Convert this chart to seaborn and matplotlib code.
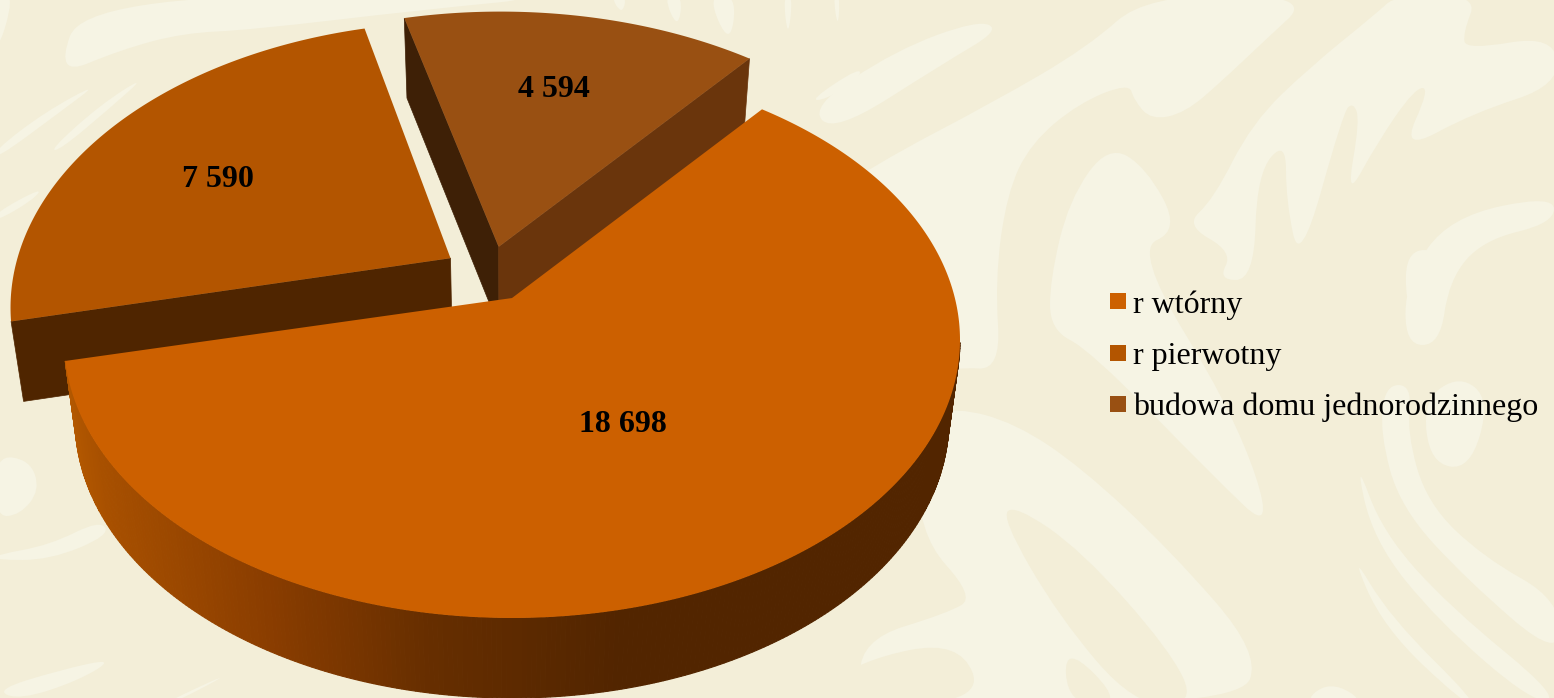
import numpy as np
import matplotlib
matplotlib.use("Agg")
import matplotlib.pyplot as plt
import seaborn as sns
from matplotlib.lines import Line2D
from matplotlib.patches import PathPatch, Polygon
from matplotlib.path import Path

# -------------------------
# Data
# -------------------------
categories = ["r wtórny", "r pierwotny", "budowa domu jednorodzinnego"]
values = [18698, 7590, 4594]
colors = ["#CC6000", "#B35500", "#995012"]

# -------------------------
# Pie geometry (image pixels)
# -------------------------
W, H = 1554, 698
CX, CY, RX, RY = 512, 340, 448, 278
TILT = 0.151          # moves the circle centre towards the far side
DEPTH = 80
START = 50.9          # degrees, first slice runs clockwise from here
EXPLODE = [(0, 0), (-0.142, 0.15), (-0.031, 0.194)]
STRETCH = [(1, 1), (1, 1.05), (1.03, 1.06)]
LABEL_R = [0.45, 0.65, 0.7]
LABEL_SHIFT = [(-1, 16), (-6, 5), (-4, 2)]

BG_DARK = "#F3EED8"
BG_LIGHT = "#F6F4E4"


def project(u, v):
    den = 1 + TILT * v
    x = u * np.sqrt(1 - TILT ** 2) / den
    y = (v + TILT) / den
    return CX + RX * x, CY - RY * y


def drop(x, y):
    # the bottom face, pulled slightly inwards
    return CX + (x - CX) * 0.975, y + DEPTH


def slice_outline(i, a0, a1, n=160):
    t = np.radians(np.linspace(a0, a1, n))
    sx, sy = STRETCH[i]
    ex, ey = EXPLODE[i]
    return project(ex + sx * np.cos(t), ey + sy * np.sin(t))


def wall(ax, p, q, color, z):
    bx, by = drop(np.array([p[0], q[0]]), np.array([p[1], q[1]]))
    ax.add_patch(Polygon([p, q, (bx[1], by[1]), (bx[0], by[0])], fc=color, ec=color, lw=0.5, zorder=z))


def blob(ax, pts, color=BG_LIGHT):
    # closed smooth shape through the midpoints of pts
    pts = np.array(pts, dtype=float)
    mids = (pts + np.roll(pts, -1, axis=0)) / 2
    verts = [mids[-1]]
    codes = [Path.MOVETO]
    for k in range(len(pts)):
        verts += [pts[k], mids[k]]
        codes += [Path.CURVE3, Path.CURVE3]
    ax.add_patch(PathPatch(Path(verts, codes), fc=color, ec="none", zorder=1))


# wallpaper swirls
light_shapes = [
    [(760, 240), (877, 163), (992, 103), (1088, 47), (1146, -5), (1314, -5), (1262, 43), (1223, 80), (1185, 113),
     (1151, 120), (1134, 100), (1129, 83), (1079, 103), (1031, 143), (1007, 193), (995, 280), (1001, 370),
     (957, 367), (900, 380), (800, 300)],
    [(1108, 145), (1069, 200), (1050, 280), (1050, 330), (1090, 350), (1214, 477), (1275, 535), (1236, 417),
     (1134, 250), (1180, 230), (1146, 167)],
    [(1185, 225), (1213, 200), (1252, 123), (1310, 67), (1377, 13), (1396, -5), (1478, -5), (1463, 33), (1466, 50),
     (1554, 35), (1560, 85), (1473, 113), (1401, 152), (1430, 88), (1415, 88), (1377, 143), (1346, 200),
     (1360, 120), (1353, 102), (1343, 113), (1300, 267), (1286, 200), (1286, 140), (1257, 173), (1254, 280),
     (1218, 280), (1233, 252)],
    [(1406, 280), (1449, 217), (1554, 195), (1554, 223), (1483, 240), (1449, 280), (1440, 345), (1405, 345)],
    [(1404, 250), (1444, 250), (1425, 320), (1408, 320)],
    # lower right rings
    [(1380, 433), (1400, 507), (1467, 580), (1560, 660), (1560, 600), (1483, 557), (1427, 503), (1407, 433),
     (1412, 385), (1385, 385)],
    [(1423, 400), (1430, 463), (1470, 470), (1490, 400), (1460, 375)],
    [(1355, 457), (1383, 533), (1450, 607), (1560, 697), (1533, 703), (1437, 620), (1373, 540)],
    [(1350, 550), (1390, 617), (1477, 703), (1463, 703), (1383, 627)],
    [(955, 407), (1015, 423), (1081, 467), (1170, 550), (1260, 653), (1240, 705), (860, 705), (860, 640), (948, 613),
     (975, 597), (917, 533), (920, 420)],
    [(1300, 705), (1330, 680), (1370, 705)],
    # upper middle streaks
    [(810, 107), (896, 50), (978, 20), (1000, 30), (944, 63), (834, 133)],
    [(833, -5), (840, -5), (838, 30)],
    [(610, -5), (627, -5), (622, 15)],
    [(663, -5), (683, -5), (678, 30)],
    [(707, -5), (737, -5), (730, 47)],
    [(783, -5), (793, -5), (788, 40)],
    [(810, 100), (860, 67), (860, 78), (825, 100)],
    # top left
    [(85, -5), (575, -5), (420, 10), (250, 30), (183, 33), (120, 50), (55, 77)],
    [(-5, 150), (45, 112), (100, 82), (60, 112), (-5, 160)],
    [(50, 150), (100, 105), (147, 75), (110, 108), (60, 150)],
    [(-5, 213), (43, 187), (33, 200), (-5, 222)],
    [(-5, -5), (15, -5), (-5, 60)],
    # left
    [(-5, 455), (30, 460), (40, 490), (20, 515), (-5, 517)],
    [(-5, 555), (50, 545), (100, 520), (110, 535), (50, 560), (-5, 560)],
    [(-5, 690), (60, 670), (115, 658), (80, 680), (20, 700)],
    [(160, 705), (240, 668), (170, 705)],
]
dark_shapes = [
    [(1015, 505), (1081, 550), (1170, 650), (1196, 705), (1134, 705), (1059, 617), (1001, 517)],
    [(1064, 643), (1125, 705), (1068, 705)],
    [(860, 660), (960, 640), (985, 705), (800, 705)],
]

# -------------------------
# Plotting
# -------------------------
sns.set_theme(style="white")
plt.rcParams["font.family"] = ["Liberation Serif", "DejaVu Serif"]
palette = sns.color_palette(colors)

fig = plt.figure(figsize=(W / 100, H / 100), dpi=100, facecolor=BG_DARK)
ax = fig.add_axes([0, 0, 1, 1])
ax.set_xlim(0, W)
ax.set_ylim(H, 0)
ax.axis("off")

for shape in light_shapes:
    blob(ax, shape)
for shape in dark_shapes:
    blob(ax, shape, BG_DARK)

# slice angles come straight from the values
sweep = np.array(values) / sum(values) * 360
ends = START - np.cumsum(sweep)
starts = ends + sweep

# exploded slices first, the big one ends up on top
# budowa domu
xs, ys = slice_outline(2, starts[2], ends[2])
apex = project(*EXPLODE[2])
wall(ax, apex, (xs[0], ys[0]), "#3E2006", 3)
wall(ax, apex, (xs[-1], ys[-1]), "#6A350C", 3)
ax.fill(np.r_[apex[0], xs], np.r_[apex[1], ys], color=palette[2], lw=0, zorder=4)

# r pierwotny
xs, ys = slice_outline(1, starts[1], ends[1])
apex = project(*EXPLODE[1])
wall(ax, apex, (xs[0], ys[0]), "#4F2500", 5)
ax.fill(np.r_[apex[0], xs], np.r_[apex[1], ys], color=palette[1], lw=0, zorder=6)

# r wtórny, outer wall shaded from left to right, only the part facing us
xs, ys = slice_outline(0, starts[0], ends[0], n=400)
bx, by = drop(xs, ys)
angles = np.linspace(starts[0], ends[0], 400)
for k in range(len(xs) - 1):
    if angles[k] > -9:
        continue
    shade = [np.interp(xs[k], [65, 100, 267, 433, 620], [c0, c1, c2, c3, c4])
             for c0, c1, c2, c3, c4 in zip((0xB3, 0x58, 0), (0xA8, 0x50, 0), (0x8A, 0x3D, 0), (0x66, 0x2E, 0), (0x52, 0x25, 0))]
    col = tuple(c / 255 for c in shade)
    ax.add_patch(Polygon([(xs[k], ys[k]), (xs[k + 1], ys[k + 1]), (bx[k + 1], by[k + 1]), (bx[k], by[k])],
                         fc=col, ec=col, lw=0.8, zorder=7))
apex = project(*EXPLODE[0])
ax.fill(np.r_[apex[0], xs], np.r_[apex[1], ys], color=palette[0], lw=0, zorder=8)

# value labels
for i, val in enumerate(values):
    mid = np.radians((starts[i] + ends[i]) / 2)
    lx, ly = project(EXPLODE[i][0] + LABEL_R[i] * np.cos(mid), EXPLODE[i][1] + LABEL_R[i] * np.sin(mid))
    ax.text(lx + LABEL_SHIFT[i][0], ly + LABEL_SHIFT[i][1], f"{val:,}".replace(",", " "), ha="center", va="center",
            fontsize=23, fontweight="bold", color="black", zorder=9)

handles = [Line2D([], [], marker="s", ls="none", ms=11.5, mew=0, color=c) for c in palette]
leg = ax.legend(handles, categories, loc="upper left", bbox_to_anchor=(1110 / W, 1 - 290 / H), frameon=False,
                fontsize=23, labelspacing=0.69, handlelength=0.5, handletextpad=0.22, borderpad=0, borderaxespad=0,
                labelcolor="black")
leg.set_zorder(9)

plt.savefig("out.png", dpi=100, facecolor=BG_DARK)
